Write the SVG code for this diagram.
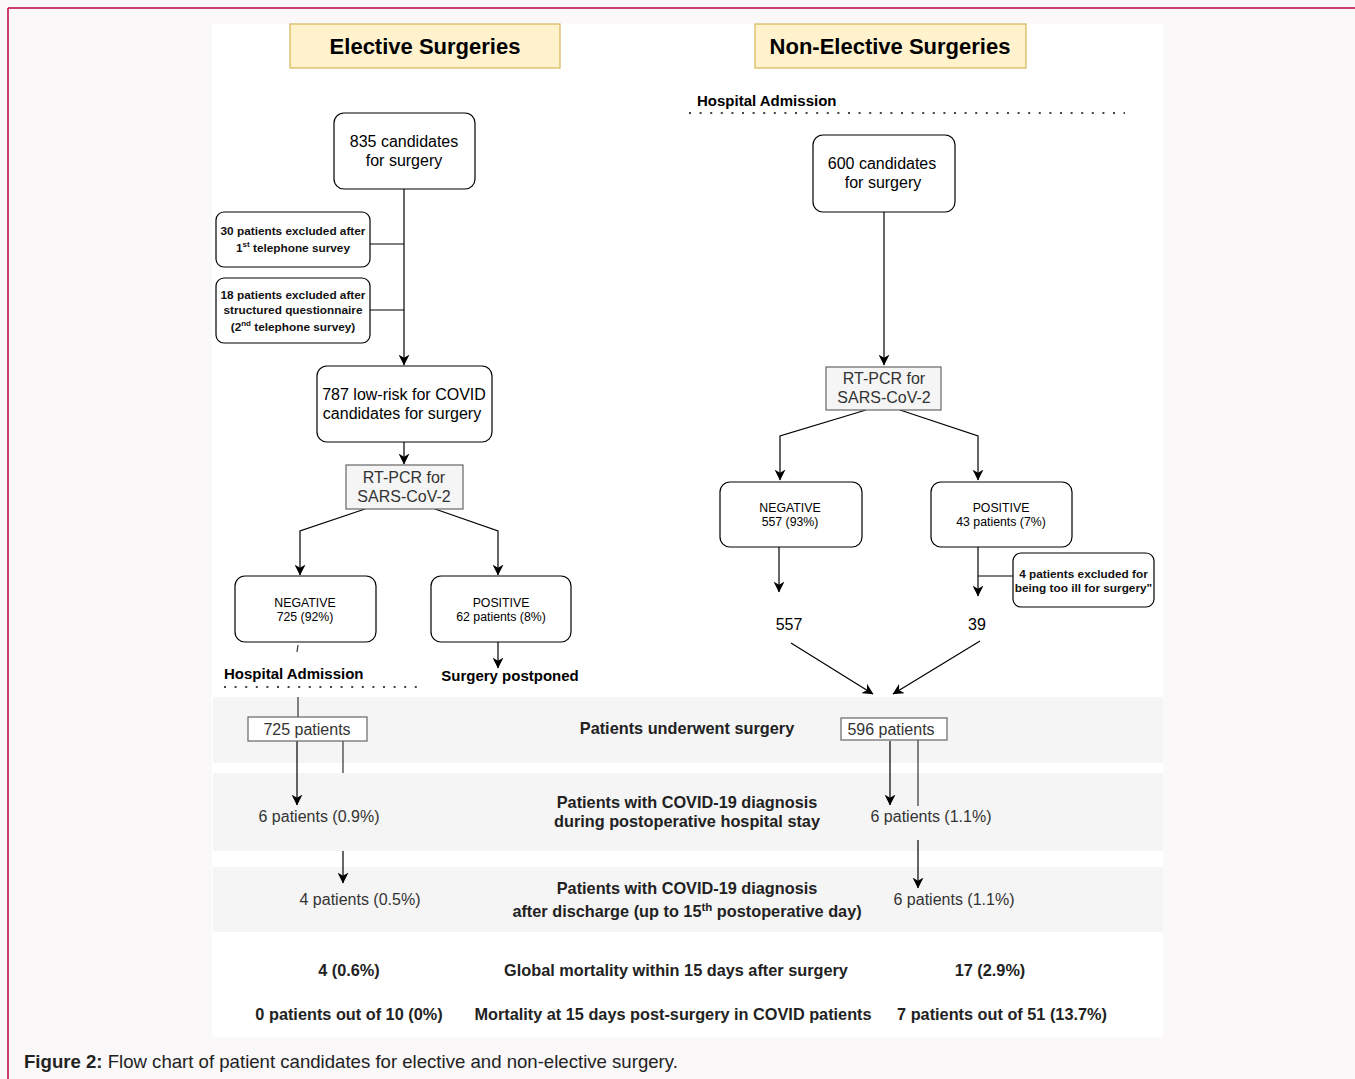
<svg xmlns="http://www.w3.org/2000/svg" width="1355" height="1079" viewBox="0 0 1355 1079">
<defs>
<marker id="ah" markerUnits="userSpaceOnUse" markerWidth="11" markerHeight="11" viewBox="0 0 10 10" refX="9.5" refY="5" orient="auto">
<path d="M0,0 L10,5 L0,10 L3,5 Z" fill="#000"/>
</marker>
<style>
text{font-family:"Liberation Sans",Arial,sans-serif;}
.title{font-size:22px;font-weight:bold;text-anchor:middle;fill:#000;}
.tbox{fill:#fff2cc;stroke:#d6b656;stroke-width:1.2;}
.node{fill:#fff;stroke:#000;stroke-width:1.2;}
.pcr{fill:#f5f5f5;stroke:#666;stroke-width:1.2;}
.sq{fill:#fff;stroke:#666;stroke-width:1.2;}
.t16{font-size:16px;text-anchor:middle;fill:#000;}
.g16{font-size:16px;text-anchor:middle;fill:#333;}
.t12{font-size:12.3px;text-anchor:middle;fill:#000;}
.ex{font-size:11.8px;font-weight:bold;text-anchor:middle;fill:#111;}
.hb{font-size:15px;font-weight:bold;fill:#000;}
.rb{font-size:16.3px;font-weight:bold;text-anchor:middle;fill:#222;}
.band{fill:#f5f5f5;}
.ln{fill:none;stroke:#000;stroke-width:1.2;}
.gl{fill:none;stroke:#333;stroke-width:1.2;}
.arr{fill:none;stroke:#000;stroke-width:1.2;marker-end:url(#ah);}
.dot{fill:none;stroke:#444;stroke-width:2;stroke-dasharray:2 8.6;}
</style>
</defs>
<rect x="0" y="0" width="1355" height="1079" fill="#faf8f9"/>
<path d="M8,8 H1355 M8,8 V1079" fill="none" stroke="#c2003a" stroke-width="1.5"/>
<rect x="212" y="24" width="951" height="1013" fill="#fff"/>
<!-- bands -->
<rect class="band" x="213" y="697" width="950" height="66"/>
<rect class="band" x="213" y="773" width="950" height="78"/>
<rect class="band" x="213" y="867" width="950" height="65"/>

<g id="connectors">
<!-- elective -->
<path class="arr" d="M404,189 V365"/>
<path class="ln" d="M370,244 H404 M370,310 H404"/>
<path class="arr" d="M404,442 V464"/>
<path class="arr" d="M365,509 L300,531 V575"/>
<path class="arr" d="M435,509 L498,531 V575"/>
<path class="arr" d="M498,642 V668"/>
<path class="gl" d="M298,645 L297,652 M298,697 V717"/>
<path class="arr" d="M297,741 V805"/>
<path class="gl" d="M343,741 V773"/>
<path class="arr" d="M343,851 V883"/>
<!-- non-elective -->
<path class="arr" d="M884,212 V365"/>
<path class="arr" d="M866,410 L780,436 V480"/>
<path class="arr" d="M900,410 L978,436 V480"/>
<path class="arr" d="M779,547 V592"/>
<path class="arr" d="M978,547 V596"/>
<path class="ln" d="M978,576 H1013"/>
<path class="arr" d="M791,643 L873,694"/>
<path class="arr" d="M980,641 L893,694"/>
<path class="arr" d="M890,741 V805"/>
<path class="gl" d="M918,740 V806"/>
<path class="arr" d="M918,840 V888"/>
<!-- dotted admission lines -->
<path class="dot" d="M224,687 H425"/>
<path class="dot" d="M689,113 H1125"/>
</g>

<g id="title-elective">
<rect class="tbox" x="290" y="24" width="270" height="44"/>
<text class="title" x="425" y="54">Elective Surgeries</text>
</g>
<g id="title-nonelective">
<rect class="tbox" x="755" y="24" width="271" height="44"/>
<text class="title" x="890" y="54">Non-Elective Surgeries</text>
</g>

<g id="e-835">
<rect class="node" x="334" y="113" width="141" height="76" rx="10"/>
<text class="t16" x="404" y="147">835 candidates</text>
<text class="t16" x="404" y="166">for surgery</text>
</g>
<g id="e-excl30">
<rect class="node" x="216" y="212" width="154" height="55" rx="8"/>
<text class="ex" x="293" y="235">30 patients excluded after</text>
<text class="ex" x="293" y="252">1<tspan font-size="8" dy="-5">st</tspan><tspan dy="5"> telephone survey</tspan></text>
</g>
<g id="e-excl18">
<rect class="node" x="216" y="278" width="154" height="65" rx="8"/>
<text class="ex" x="293" y="299">18 patients excluded after</text>
<text class="ex" x="293" y="314">structured questionnaire</text>
<text class="ex" x="293" y="331">(2<tspan font-size="8" dy="-5">nd</tspan><tspan dy="5"> telephone survey)</tspan></text>
</g>
<g id="e-787">
<rect class="node" x="317" y="366" width="175" height="76" rx="10"/>
<text class="t16" x="404" y="400">787 low-risk for COVID</text>
<text class="t16" x="402" y="419">candidates for surgery</text>
</g>
<g id="e-pcr">
<rect class="pcr" x="346" y="465" width="117" height="44"/>
<text class="g16" x="404" y="483">RT-PCR for</text>
<text class="g16" x="404" y="502">SARS-CoV-2</text>
</g>
<g id="e-neg">
<rect class="node" x="235" y="576" width="141" height="66" rx="10"/>
<text class="t12" x="305" y="607">NEGATIVE</text>
<text class="t12" x="305" y="621">725 (92%)</text>
</g>
<g id="e-pos">
<rect class="node" x="431" y="576" width="140" height="66" rx="10"/>
<text class="t12" x="501" y="607">POSITIVE</text>
<text class="t12" x="501" y="621">62 patients (8%)</text>
</g>
<g id="e-postponed">
<text class="hb" x="510" y="681" text-anchor="middle" font-size="13">Surgery postponed</text>
</g>
<g id="e-admission">
<text class="hb" x="224" y="679">Hospital Admission</text>
</g>
<g id="e-725">
<rect class="sq" x="248" y="717" width="119" height="24"/>
<text class="g16" x="307" y="735">725 patients</text>
</g>
<g id="e-6">
<text class="g16" x="319" y="822">6 patients (0.9%)</text>
</g>
<g id="e-4">
<text class="g16" x="360" y="905">4 patients (0.5%)</text>
</g>

<g id="n-admission">
<text class="hb" x="697" y="106">Hospital Admission</text>
</g>
<g id="n-600">
<rect class="node" x="813" y="135" width="142" height="77" rx="10"/>
<text class="t16" x="882" y="169">600 candidates</text>
<text class="t16" x="883" y="188">for surgery</text>
</g>
<g id="n-pcr">
<rect class="pcr" x="826" y="367" width="115" height="43"/>
<text class="g16" x="884" y="384">RT-PCR for</text>
<text class="g16" x="884" y="403">SARS-CoV-2</text>
</g>
<g id="n-neg">
<rect class="node" x="720" y="482" width="142" height="65" rx="10"/>
<text class="t12" x="790" y="512">NEGATIVE</text>
<text class="t12" x="790" y="526">557 (93%)</text>
</g>
<g id="n-pos">
<rect class="node" x="931" y="482" width="141" height="65" rx="10"/>
<text class="t12" x="1001" y="512">POSITIVE</text>
<text class="t12" x="1001" y="526">43 patients (7%)</text>
</g>
<g id="n-excl4">
<rect class="node" x="1013" y="553" width="141" height="54" rx="8"/>
<text class="ex" x="1083.5" y="578" font-size="11.4">4 patients excluded for</text>
<text class="ex" x="1083.5" y="592" font-size="11.4">being too ill for surgery"</text>
</g>
<g id="n-557"><text class="t16" x="789" y="630">557</text></g>
<g id="n-39"><text class="t16" x="977" y="630">39</text></g>
<g id="n-596">
<rect class="sq" x="841" y="718" width="106" height="22"/>
<text class="g16" x="891" y="735">596 patients</text>
</g>
<g id="n-6a"><text class="g16" x="931" y="822">6 patients (1.1%)</text></g>
<g id="n-6b"><text class="g16" x="954" y="905">6 patients (1.1%)</text></g>

<g id="row-labels">
<text class="rb" x="687" y="734">Patients underwent surgery</text>
<text class="rb" x="687" y="808">Patients with COVID-19 diagnosis</text>
<text class="rb" x="687" y="827">during postoperative hospital stay</text>
<text class="rb" x="687" y="894">Patients with COVID-19 diagnosis</text>
<text class="rb" x="687" y="917">after discharge (up to 15<tspan font-size="11.5" dy="-6">th</tspan><tspan dy="6"> postoperative day)</tspan></text>
<text class="rb" x="349" y="976">4 (0.6%)</text>
<text class="rb" x="676" y="976">Global mortality within 15 days after surgery</text>
<text class="rb" x="990" y="976">17 (2.9%)</text>
<text class="rb" x="349" y="1020">0 patients out of 10 (0%)</text>
<text class="rb" x="673" y="1020">Mortality at 15 days post-surgery in COVID patients</text>
<text class="rb" x="1002" y="1020">7 patients out of 51 (13.7%)</text>
</g>

<g id="caption">
<text x="24" y="1068" font-size="18.6" fill="#222"><tspan font-weight="bold">Figure 2:</tspan> Flow chart of patient candidates for elective and non-elective surgery.</text>
</g>
</svg>
